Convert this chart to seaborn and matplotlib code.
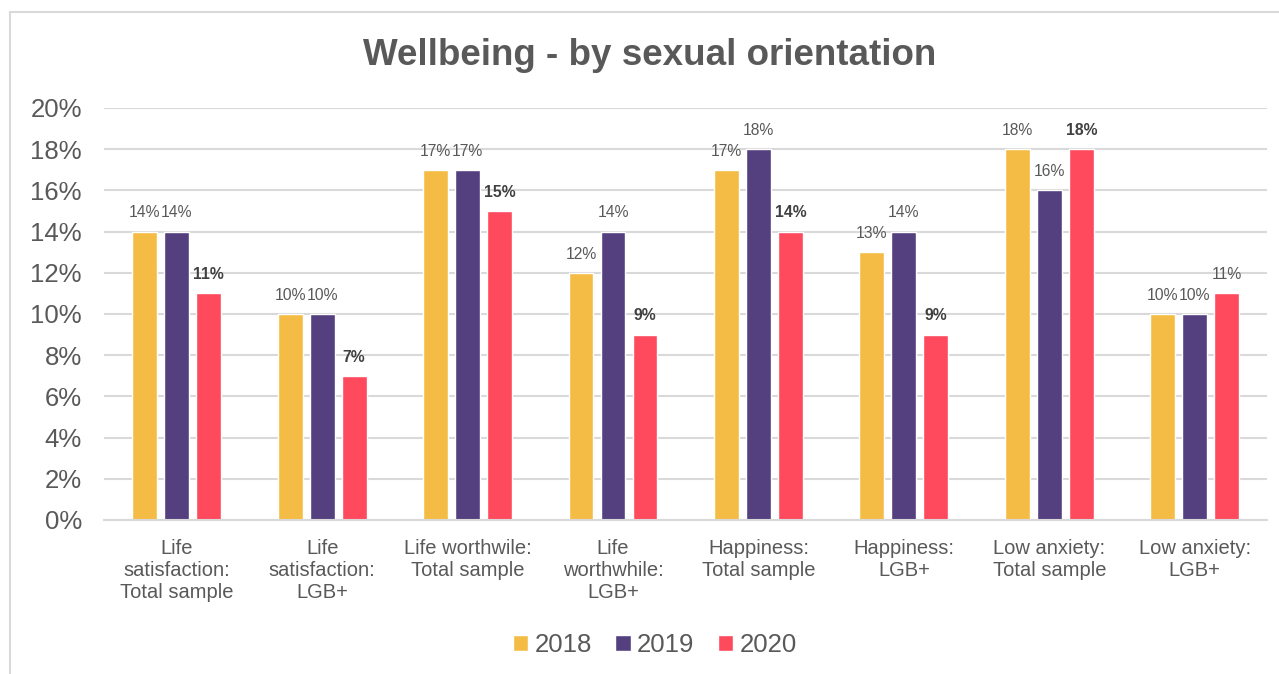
import pandas as pd
import matplotlib.pyplot as plt
import seaborn as sns
from matplotlib.patches import Rectangle

categorias = [
    "Life\nsatisfaction:\nTotal sample",
    "Life\nsatisfaction:\nLGB+",
    "Life worthwile:\nTotal sample",
    "Life\nworthwhile:\nLGB+",
    "Happiness:\nTotal sample",
    "Happiness:\nLGB+",
    "Low anxiety:\nTotal sample",
    "Low anxiety:\nLGB+",
]
anios = ["2018", "2019", "2020"]
v2018 = [14, 10, 17, 12, 17, 13, 18, 10]
v2019 = [14, 10, 17, 14, 18, 14, 16, 10]
v2020 = [11, 7, 15, 9, 14, 9, 18, 11]
colores = ["#F4BC45", "#54407F", "#FF4A5E"]

df = pd.DataFrame({
    "Categoria": categorias * 3,
    "Anio": [a for a in anios for _ in categorias],
    "Valor": v2018 + v2019 + v2020,
})

sns.set_style("white")
plt.rcParams["font.family"] = ["Liberation Sans", "DejaVu Sans"]
gris = "#595959"

fig = plt.figure(figsize=(12.79, 6.74), dpi=100)
ax = fig.add_axes([0.0813, 0.2285, 0.9097, 0.6113])

sns.barplot(data=df, x="Categoria", y="Valor", hue="Anio", palette=colores,
            width=0.66, gap=0.22, ax=ax, saturation=1)

ax.set_ylim(0, 20)
ax.set_yticks(range(0, 21, 2))
ax.set_yticklabels([f"{t}%" for t in range(0, 21, 2)], fontsize=18.5, color=gris)
ax.tick_params(axis="x", labelsize=14.5, labelcolor=gris, length=0, pad=14)
ax.tick_params(axis="y", length=0, pad=16)
ax.set_xlabel("")
ax.set_ylabel("")
ax.grid(axis="y", color="#D9D9D9", linewidth=1.5)
ax.set_axisbelow(True)
for s in ["top", "right", "left"]:
    ax.spines[s].set_visible(False)
ax.spines["bottom"].set_color("#D9D9D9")
ax.spines["bottom"].set_linewidth(1.5)

for i, cont in enumerate(ax.containers):
    textos = ax.bar_label(cont, labels=[f"{int(v)}%" for v in cont.datavalues],
                          padding=8, fontsize=11.3, color=gris)
    if i == 2:
        for t in textos[:-1]:
            t.set_fontweight("bold")
            t.set_color("#404040")

ax.legend(loc="center", bbox_to_anchor=(0.512, 0.043), bbox_transform=fig.transFigure,
          ncol=3, frameon=False, fontsize=18.5, labelcolor=gris,
          handlelength=0.6, handleheight=0.6, handletextpad=0.25, columnspacing=0.9)

fig.text(0.508, 0.918, "Wellbeing - by sexual orientation", ha="center", va="center",
         fontsize=26.5, fontweight="bold", color=gris)

fig.patches.append(Rectangle((10 / 1279, -0.01), 1.0, 1 - 12 / 674 + 0.01,
                             transform=fig.transFigure, fill=False,
                             edgecolor="#D9D9D9", linewidth=1.5))

plt.savefig("out.png", dpi=100)
